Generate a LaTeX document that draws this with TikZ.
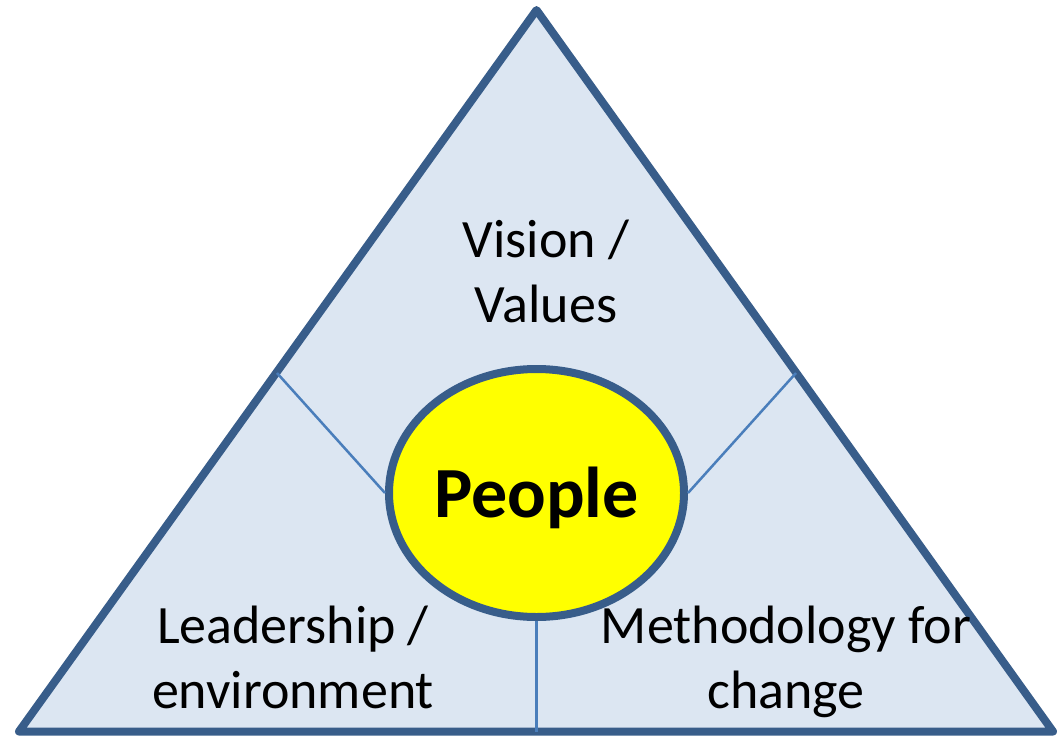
\documentclass[tikz,border=0pt]{standalone}
\usepackage{fontspec}
\setmainfont{Carlito}
\usetikzlibrary{shapes.geometric}
\definecolor{edgeblue}{HTML}{385D8A}
\definecolor{paleblue}{HTML}{DCE6F2}
\definecolor{spokeblue}{HTML}{4A7EBB}
\definecolor{coreyellow}{HTML}{FFFF00}

\begin{document}
\begin{tikzpicture}
  [x=1pt,y=-1pt,
   frame/.style={draw=edgeblue,fill=paleblue,line width=8pt,line join=round},
   spoke/.style={draw=spokeblue,line width=2.5pt},
   core/.style={ellipse,draw=edgeblue,fill=coreyellow,line width=8pt,inner sep=0pt,
     minimum width=295pt,minimum height=248pt,text height=49pt,text depth=0pt,
     font=\fontsize{72}{86}\selectfont\bfseries},
   corner/.style={align=center,anchor=base,font=\fontsize{54}{65}\selectfont}]

  \useasboundingbox (0,0) rectangle (1057,736);

  \coordinate (top) at (536.5,10);
  \coordinate (bl) at (19,731.5);
  \coordinate (br) at (1053,731.5);
  \coordinate (ml) at (277,373);
  \coordinate (mr) at (796,373);
  \coordinate (bm) at (536.5,731.5);

  \draw[frame] (top) -- (br) -- (bl) -- cycle;

  \node[core] (people) at (536.5,493) {People};

  \foreach \from/\to in {ml/people.west,mr/people.east,people.south/bm}
    \draw[spoke] (\from) -- (\to);

  % base is the baseline of the last line
  \node[corner] (vision) at (546,322) {Vision /\\Values};
  \node[corner] (leader) at (293,708) {Leadership /\\environment};
  \node[corner] (method) at (786,708) {Methodology for\\change};
\end{tikzpicture}
\end{document}
